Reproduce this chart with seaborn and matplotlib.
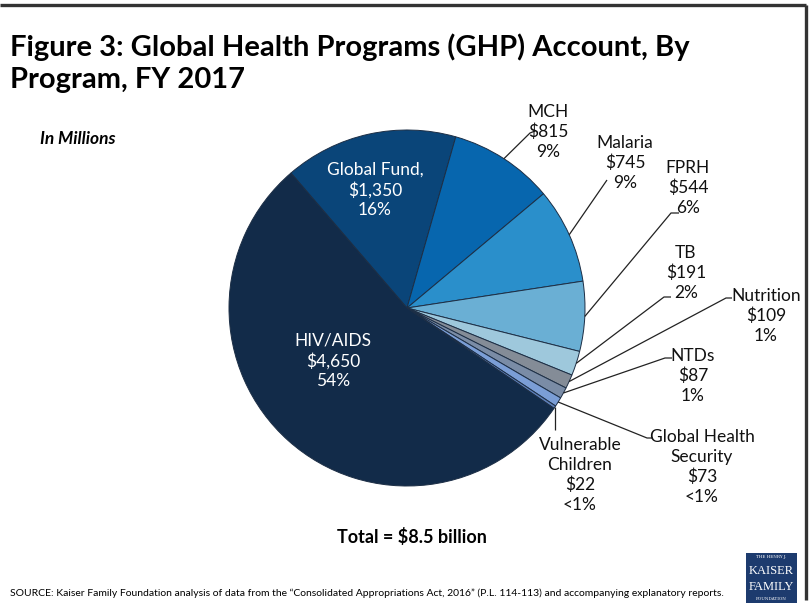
import numpy as np
import matplotlib
matplotlib.use("Agg")
import matplotlib.pyplot as plt
import seaborn as sns
from matplotlib.patches import Rectangle

# ---- data ----
programs = ["Global Fund", "MCH", "Malaria", "FPRH", "TB", "Nutrition", "NTDs",
            "Global Health Security", "Vulnerable Children", "HIV/AIDS"]
amounts = [1350, 815, 745, 544, 191, 109, 87, 73, 22, 4650]
amount_labels = ["$1,350", "$815", "$745", "$544", "$191", "$109", "$87", "$73", "$22", "$4,650"]
pct_labels = ["16%", "9%", "9%", "6%", "2%", "1%", "1%", "<1%", "<1%", "54%"]
name_labels = ["Global Fund,", "MCH", "Malaria", "FPRH", "TB", "Nutrition", "NTDs",
               "Global Health\nSecurity", "Vulnerable\nChildren", "HIV/AIDS"]
colors = ["#0A4579", "#0766AE", "#2A8FCB", "#6AAFD4", "#9EC8DC", "#848C97",
          "#7A8CA6", "#7B9ED6", "#5E7FB8", "#122B49"]

sns.set_theme(style="white")
plt.rcParams["font.family"] = ["Lato", "DejaVu Sans"]

W, H = 812, 612
fig = plt.figure(figsize=(W / 100, H / 100), dpi=100)
ax = fig.add_axes([0, 0, 1, 1])

cx, cy, R = 407, H - 308, 178
start = 130.7
wedges, _ = ax.pie(amounts, colors=sns.color_palette(colors), startangle=start,
                   counterclock=False, center=(cx, cy), radius=R,
                   wedgeprops=dict(edgecolor="#1C2E45", linewidth=0.7))
ax.set_xlim(0, W)
ax.set_ylim(0, H)
ax.set_aspect("equal")
ax.axis("off")

def Y(y):
    return H - y

lab_fs = 12.5
ls = 1.28

# inside labels
inside = {0: (375, 190), 9: (333, 361)}
for i, (x, y) in inside.items():
    ax.text(x, Y(y), f"{name_labels[i]}\n{amount_labels[i]}\n{pct_labels[i]}",
            ha="center", va="center", color="white", fontsize=lab_fs, linespacing=ls)

# outside labels: text center, elbow, end of horizontal tick
outside = {
    1: ((548, 132), (530, 133), (535, 131)),
    2: ((625, 163), (607, 180), None),
    3: ((688, 188), (671, 213), (679, 213)),
    4: ((686, 273), (664, 297), (671, 297)),
    5: ((766, 316), (726, 298), (732, 298)),
    6: ((693, 376), (665, 358), (672, 358)),
    7: ((702, 467), (647, 438), (653, 438)),
    8: ((580, 475), None, None),
}
for i, (tpos, elbow, tick) in outside.items():
    w = wedges[i]
    mid = np.deg2rad((w.theta1 + w.theta2) / 2)
    ex, ey = cx + R * np.cos(mid), cy + R * np.sin(mid)
    if elbow is None:
        xs, ys = [ex, ex], [ey, Y(430)]
    else:
        xs, ys = [ex, elbow[0]], [ey, Y(elbow[1])]
        if tick is not None:
            xs.append(tick[0]); ys.append(Y(tick[1]))
    ax.plot(xs, ys, color="#222222", lw=0.9, solid_capstyle="butt")
    ax.text(tpos[0], Y(tpos[1]), f"{name_labels[i]}\n{amount_labels[i]}\n{pct_labels[i]}",
            ha="center", va="center", color="#111111", fontsize=lab_fs, linespacing=ls)

# title and notes
ax.text(10, Y(47), "Figure 3: Global Health Programs (GHP) Account, By",
        ha="left", va="center", fontsize=21, fontweight="bold", color="black")
ax.text(10, Y(80), "Program, FY 2017",
        ha="left", va="center", fontsize=21, fontweight="bold", color="black")
ax.text(40, Y(139), "In Millions", ha="left", va="center", fontsize=12.5,
        fontweight="bold", fontstyle="italic", color="black")
ax.text(412, Y(537), "Total = $8.5 billion", ha="center", va="center",
        fontsize=13, fontweight="bold", color="black")
ax.text(10, Y(593), "SOURCE: Kaiser Family Foundation analysis of data from the \u201cConsolidated "
        "Appropriations Act, 2016\u201d (P.L. 114-113) and accompanying explanatory reports.",
        ha="left", va="center", fontsize=7.45, color="black")

# frame lines
ax.plot([0, 806], [Y(5), Y(5)], color="#333333", lw=2.4, solid_capstyle="butt")
ax.plot([806, 806], [Y(5), Y(600)], color="#333333", lw=2.4, solid_capstyle="butt")

# logo
ax.add_patch(Rectangle((746, Y(603)), 51, 50, facecolor="#1D3B6E", edgecolor="none"))
ax.text(771.5, Y(557), "THE HENRY J.", ha="center", va="center", fontsize=3,
        color="white", family="DejaVu Serif")
ax.text(771.5, Y(571), "KAISER", ha="center", va="center", fontsize=9,
        color="white", family="Liberation Serif")
ax.text(771.5, Y(587), "FAMILY", ha="center", va="center", fontsize=9,
        color="white", family="Liberation Serif")
ax.text(771.5, Y(599), "FOUNDATION", ha="center", va="center", fontsize=3,
        color="white", family="DejaVu Serif")

fig.savefig("out.png", dpi=100)
